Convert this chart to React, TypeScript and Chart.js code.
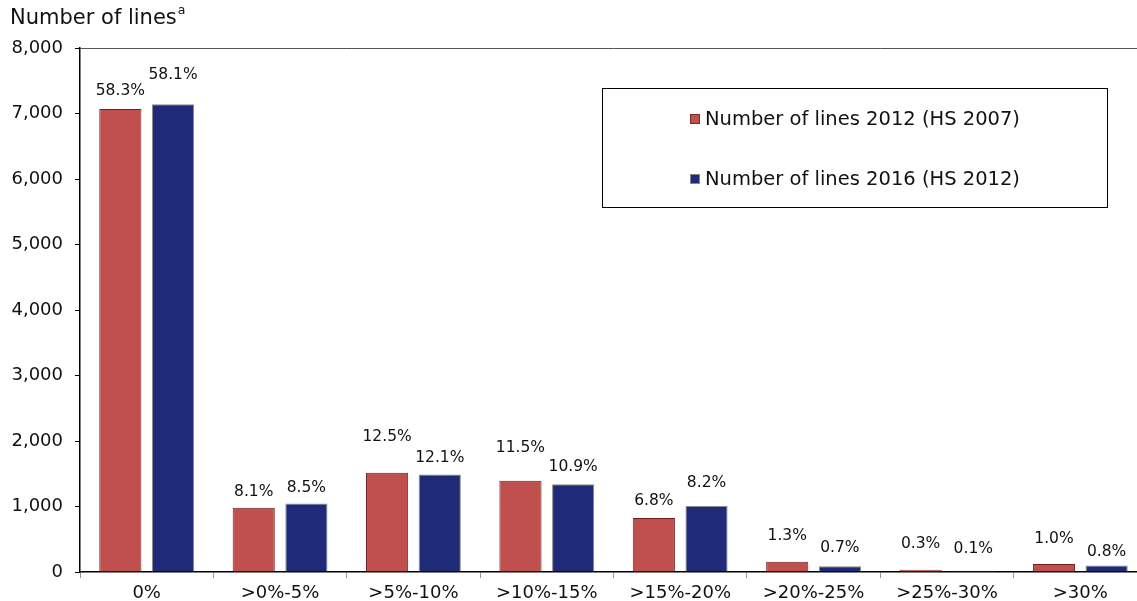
import React, { useEffect, useRef } from "react";
import { Chart, registerables } from "chart.js";

Chart.register(...registerables);

const categories = ["0%", ">0%-5%", ">5%-10%", ">10%-15%", ">15%-20%", ">20%-25%", ">25%-30%", ">30%"];
const lines2012 = [7069, 982, 1516, 1394, 825, 158, 36, 121];
const lines2016 = [7140, 1045, 1487, 1339, 1008, 86, 20, 98];
const pct2012 = ["58.3%", "8.1%", "12.5%", "11.5%", "6.8%", "1.3%", "0.3%", "1.0%"];
const pct2016 = ["58.1%", "8.5%", "12.1%", "10.9%", "8.2%", "0.7%", "0.1%", "0.8%"];
const seriesNames = ["Number of lines 2012 (HS 2007)", "Number of lines 2016 (HS 2012)"];
const yTicks = [0, 1000, 2000, 3000, 4000, 5000, 6000, 7000, 8000];

// label offsets above bar tops (px) — styling
const labelOffset2012 = [18, 16, 36, 33, 17, 26, 26, 25];
const labelOffset2016 = [29, 16, 17, 17, 23, 18, 22, 14];

const FONT = "'DejaVu Sans', Verdana, sans-serif";
const RED = "#C0504D";
const BLUE = "#1F2A78";

export default function App() {
  const ref = useRef<HTMLCanvasElement | null>(null);

  useEffect(() => {
    document.body.style.margin = "0";
    document.body.style.overflow = "hidden";
    const canvas = ref.current;
    if (!canvas) return;

    const overlay = {
      id: "overlay",
      afterDatasetsDraw(chart: any) {
        const ctx = chart.ctx;
        const labels = [pct2012, pct2016];
        const offs = [labelOffset2012, labelOffset2016];
        ctx.save();
        ctx.font = `15.5px ${FONT}`;
        ctx.fillStyle = "#111";
        ctx.textAlign = "center";
        ctx.textBaseline = "middle";
        [0, 1].forEach((d) => {
          const meta = chart.getDatasetMeta(d);
          meta.data.forEach((bar: any, i: number) => {
            ctx.fillText(labels[d][i], bar.x, bar.y - offs[d][i]);
          });
        });
        ctx.restore();
      },
      afterDraw(chart: any) {
        const ctx = chart.ctx;
        const a = chart.chartArea;
        ctx.save();
        ctx.strokeStyle = "#555";
        ctx.lineWidth = 1;
        ctx.beginPath();
        ctx.moveTo(a.left, a.top + 0.5);
        ctx.lineTo(a.right, a.top + 0.5);
        ctx.stroke();
        ctx.fillStyle = "#111";
        ctx.font = `21px ${FONT}`;
        ctx.textAlign = "left";
        ctx.textBaseline = "middle";
        const t = "Number of lines";
        ctx.fillText(t, 10, 19);
        const w = ctx.measureText(t).width;
        ctx.font = `12.5px ${FONT}`;
        ctx.fillText("a", 10 + w + 1, 11);
        ctx.strokeStyle = "#000";
        ctx.lineWidth = 1;
        ctx.strokeRect(602.5, 88.5, 505, 119);
        const ys = [119, 179];
        const cols = [RED, BLUE];
        const borders = ["#7f2a28", "#888"];
        ctx.font = `19.5px ${FONT}`;
        ys.forEach((y, k) => {
          ctx.fillStyle = cols[k];
          ctx.fillRect(690, y - 5, 10, 10);
          ctx.strokeStyle = borders[k];
          ctx.strokeRect(690.5, y - 4.5, 9, 9);
          ctx.fillStyle = "#111";
          ctx.fillText(seriesNames[k], 705, y + 1);
        });
        ctx.restore();
      },
    };

    const chart = new Chart(canvas, {
      type: "bar",
      data: {
        labels: categories,
        datasets: [
          {
            label: seriesNames[0],
            data: lines2012,
            backgroundColor: RED,
            borderColor: "#6e2220",
            borderWidth: 1,
            categoryPercentage: 0.79,
            barPercentage: 0.8,
          },
          {
            label: seriesNames[1],
            data: lines2016,
            backgroundColor: BLUE,
            borderColor: "#8a8a8a",
            borderWidth: 1,
            categoryPercentage: 0.79,
            barPercentage: 0.8,
          },
        ],
      },
      options: {
        responsive: false,
        animation: false,
        maintainAspectRatio: false,
        layout: { padding: { left: 0, right: 3, top: 48, bottom: 0 } },
        plugins: {
          legend: { display: false },
          tooltip: { enabled: false },
          title: { display: false },
        },
        scales: {
          x: {
            grid: {
              display: true,
              drawOnChartArea: false,
              tickLength: 6,
              color: "#999",
              offset: true,
            },
            border: { display: true, color: "#000", width: 1.5 },
            ticks: {
              font: { family: FONT, size: 18 },
              color: "#111",
              padding: 5,
              maxRotation: 0,
              autoSkip: false,
            },
            afterFit(scale: any) {
              scale.height = 29;
            },
          },
          y: {
            min: 0,
            max: 8000,
            afterBuildTicks(scale: any) {
              scale.ticks = yTicks.map((v) => ({ value: v }));
            },
            grid: {
              display: true,
              drawOnChartArea: false,
              tickLength: 5,
              color: "#000",
            },
            border: { display: true, color: "#000", width: 1.5 },
            ticks: {
              font: { family: FONT, size: 18 },
              color: "#111",
              padding: 12,
              callback: (v: any) => Number(v).toLocaleString("en-US"),
            },
            afterFit(scale: any) {
              scale.width = 80;
            },
          },
        },
      },
      plugins: [overlay],
    });

    return () => chart.destroy();
  }, []);

  return (
    <div style={{ width: 1150, height: 601, overflow: "hidden" }}>
      <canvas ref={ref} width={1150} height={601} style={{ display: "block" }} />
    </div>
  );
}
